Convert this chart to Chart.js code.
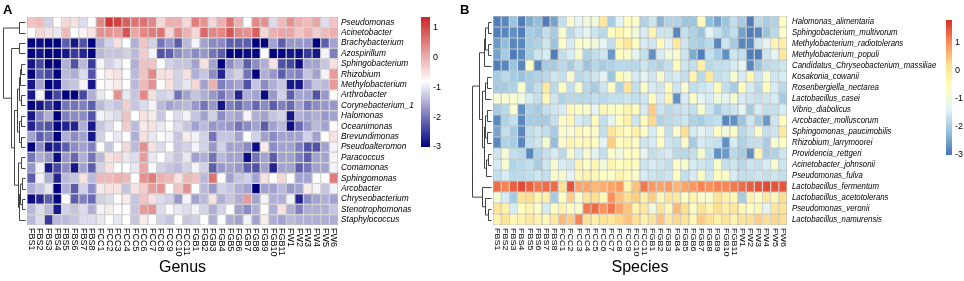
<!DOCTYPE html>
<html>
<head>
<meta charset="utf-8">
<script src="https://cdn.jsdelivr.net/npm/chart.js@4.4.1/dist/chart.umd.min.js"></script>
<style>
  body { margin: 0; background: #fff; }
  #wrap { position: relative; width: 964px; height: 281px; }
  canvas { position: absolute; top: 0; }
</style>
</head>
<body>
<div id="wrap">
  <canvas id="genus" width="470" height="281" style="left:0"></canvas>
  <canvas id="species" width="509" height="281" style="left:455px"></canvas>
</div>
<script>
// sample columns (same order in both panels)
const samples = ['FBS1','FBS2','FBS3','FBS4','FBS5','FBS6','FBS7','FBS8',
  'FCC1','FCC2','FCC3','FCC4','FCC5','FCC6','FCC7','FCC8','FCC9','FCC10','FCC11',
  'FGB1','FGB2','FGB3','FGB4','FGB5','FGB6','FGB7','FGB8','FGB9','FGB10','FGB11',
  'FW1','FW2','FW3','FW4','FW5','FW6'];

const genusNames = ['Pseudomonas','Acinetobacter','Brachybacterium','Azospirillum','Sphingobacterium',
  'Rhizobium','Methylobacterium','Arthrobacter','Corynebacterium_1','Halomonas','Oceanimonas',
  'Brevundimonas','Pseudoalteromon','Paracoccus','Comamonas','Sphingomonas','Arcobacter',
  'Chryseobacterium','Stenotrophomonas','Staphylococcus'];

// scaled abundance, one row per genus
const genusValues = [
  [-0.2,-0.1,-1.2,-0.8,-0.4,-0.5,-1.1,-0.8,0.4,1.2,1.1,0.8,0.6,0.6,0.4,-0.4,0.0,0.0,-0.4,0.5,0.3,-0.4,0.0,0.6,0.0,-0.8,0.4,0.3,-1.1,-0.1,0.3,0.0,-0.1,0.1,-1.1,-0.2],
  [-0.8,-0.4,-0.5,-1.0,-0.1,-0.8,-0.7,-0.5,0.3,0.3,0.2,0.9,0.1,0.4,0.5,0.6,-0.4,0.4,0.0,-0.4,0.7,0.4,0.4,0.9,0.4,0.3,0.8,-0.4,0.0,0.1,0.1,-0.2,0.0,-0.3,-0.1,0.0],
  [-3,-2.9,-3,-3,-2.2,-2.8,-2.3,-3,-1.5,-1.2,-0.5,-0.8,-1.5,-0.2,-1.2,-2.0,-1.7,-2.2,-1.4,-0.9,-1.6,-1.8,-1.8,-2.2,-2.2,-2.2,-3,-3,-1.6,-2.2,-1.7,-1.7,-1.7,-3,-2.2,-1.6],
  [-3,-2.8,-3,-3,-2.8,-2.5,-2.7,-3,-1.4,-1.3,-1.3,-1.2,-1.4,-0.3,-0.9,-2.3,-2.2,-1.8,-1.6,-1.8,-1.7,-2.0,-2.2,-3,-3,-2.9,-3,-0.8,-3,-3,-2.8,-2.9,-2.5,-2.8,-0.9,-1.9],
  [-2.8,-2.4,-3,-3,-1.5,-2.3,-1.4,-2.5,-0.9,-1.2,-1.0,-0.8,-1.5,-0.2,-0.2,-0.8,-1.2,-1.3,-1.3,-1.6,-0.5,-1.6,-3,-1.8,-1.5,-2.2,-1.8,-1.5,-0.5,-2.3,-2.4,-2.9,-1.6,-1.6,-1.3,-0.5],
  [-3,-2.2,-2.4,-3,-1.4,-1.5,-1.1,-2.3,-0.8,-0.6,-0.5,-0.8,-1.4,-0.2,0.4,-0.5,-0.5,-1.2,-0.5,-1.5,-1.3,-1.8,-2.7,-1.4,-1.2,-2.0,-3,-1.5,-1.7,-2.2,-1.8,-1.9,-1.3,-1.6,-0.9,0.2],
  [-2.8,-1.6,-3,-2.9,-1.4,-1.3,-0.9,-2.8,-0.8,-0.7,-0.6,-0.8,-1.4,-0.1,0.3,-0.8,-0.5,-1.2,-1.0,-0.4,-1.6,0.0,-1.9,-1.7,-1.6,-2.3,-1.3,-1.8,-1.5,-1.3,-2.8,-2.8,-1.7,-1.3,-1.4,0.2],
  [-2.8,-0.9,-2.9,-2.4,-3,-3,-2.4,-1.5,-1.0,-0.8,0.3,-1.0,-1.3,0.4,-0.5,-1.2,-1.1,-2.0,-1.6,-1.3,-1.5,-1.7,-2.0,-1.7,-2.7,-1.5,-1.6,-2.9,-1.7,-1.2,-2.2,-1.6,-1.6,-2.3,-1.7,-0.8],
  [-3,-2.8,-2.5,-2.9,-2.0,-2.0,-1.9,-2.2,-1.4,-1.2,-1.3,-0.3,-1.3,-1.1,-0.9,-1.4,-1.6,-1.5,-1.4,-1.7,-2.0,-1.7,-2.8,-1.9,-2.1,-1.8,-2.1,-1.8,-2.2,-1.9,-2.1,-1.6,-2.0,-1.8,-1.7,-1.7],
  [-2.8,-1.9,-1.5,-3,-1.9,-1.8,-1.8,-2.3,-0.9,-1.0,-1.1,-0.2,-0.8,-0.5,-0.6,-1.3,-0.8,-1.1,-0.9,-1.3,-1.6,-1.2,-1.8,-1.5,-1.6,-0.9,-1.5,-1.6,-1.3,-1.2,-2.8,-1.5,-1.6,-1.5,-1.7,-1.6],
  [-2.7,-2.2,-2.3,-3,-2.7,-2.7,-1.5,-2.8,-1.3,-1.1,-0.8,-0.3,-1.4,-0.6,-0.5,-1.0,-0.8,-1.1,-1.3,-1.6,-1.4,-1.7,-1.6,-1.7,-2.0,-1.8,-1.6,-2.2,-1.6,-1.4,-2.9,-2.1,-1.7,-1.4,-1.6,-0.8],
  [-1.6,-2.2,-2.0,-3,-1.5,-1.8,-1.6,-2.8,-1.2,-0.8,-1.0,-0.8,-1.5,-0.5,-1.0,-0.8,-0.9,-1.3,-0.6,-0.9,-1.2,-2.0,-1.3,-1.3,-1.6,-0.8,-1.2,-1.6,-1.8,-1.6,-1.6,-1.6,-1.2,-1.6,-0.8,-0.5],
  [-3,-1.8,-2.8,-2.7,-2.2,-1.8,-1.6,-1.9,-0.8,-1.3,-0.8,-0.4,-1.4,0.3,-0.5,-1.1,-0.8,-1.3,-1.2,-0.9,-1.2,-1.7,-1.2,-1.6,-1.6,-1.8,-2.9,-0.6,-1.8,-1.6,-1.6,-1.9,-2.3,-2.3,-1.6,-0.9],
  [-2.0,-1.5,-1.7,-2.9,-1.7,-2.1,-1.5,-2.0,-1.4,-0.5,-0.4,-1.0,-1.1,0.2,-1.0,-0.8,-1.1,-1.3,-1.0,-1.6,-1.5,-2.0,-1.4,-1.6,-1.6,-2.9,-2.0,-1.6,-2.2,-1.6,-1.6,-1.9,-2.2,-1.6,-1.6,-0.9],
  [-1.7,-0.9,-2.8,-2.4,-1.8,-2.8,-1.6,-2.2,-1.2,-0.5,-0.8,-0.8,-1.0,0.1,-0.8,-1.2,-1.3,-1.4,-1.2,-0.9,-1.2,-2.2,-1.7,-1.6,-1.7,-2.2,-2.3,-1.6,-2.7,-1.6,-1.6,-2.2,-2.0,-1.6,-1.6,-0.9],
  [-2.2,-0.9,-1.5,-2.7,-1.4,-1.3,-0.5,-1.4,-0.1,-0.1,0.0,-0.1,-0.8,0.3,0.5,0.0,-0.1,-0.5,-0.1,-0.2,-1.4,0.6,-0.8,-1.6,-1.3,-1.2,-1.6,-0.5,-0.8,-0.4,-0.8,-1.6,-1.6,-0.8,-0.8,0.5],
  [-1.5,-1.3,-1.0,-3,-1.5,-2.2,-1.2,-1.8,-0.6,-0.5,-0.5,-1.3,-0.5,-0.3,0.2,0.3,-0.8,-0.2,0.3,-0.8,-1.4,-1.7,-1.2,-1.3,-1.5,-1.6,-3,-1.6,-1.6,-1.4,-1.7,-1.6,-0.6,-0.9,-1.3,-0.9],
  [-2.9,-2.7,-2.2,-3,-0.8,-2.2,-1.9,-2.1,-1.2,-1.1,-0.8,-0.6,-1.3,-0.2,-0.5,-1.1,-1.2,-1.7,-0.9,-1.6,-1.4,-0.5,-1.5,-1.3,-1.5,0.2,-1.6,-0.9,-1.5,-1.5,-0.9,-2.7,-1.8,-1.6,-1.5,-1.6],
  [-1.4,-1.1,-1.4,-2.8,-1.2,-1.3,-1.1,-1.5,-0.9,-0.6,-0.8,-0.8,-1.3,0.2,0.3,-1.1,-0.8,-1.0,-1.1,-0.9,-1.2,-1.5,-1.2,-0.8,-1.6,-1.8,-1.5,-0.8,-1.5,-0.5,-1.5,-1.9,-1.5,-1.5,-1.5,-1.3],
  [-1.4,-1.1,-2.5,-1.4,-1.4,-1.3,-1.1,-1.1,-1.0,-0.8,-1.0,-0.8,-1.3,-0.6,-0.8,-1.2,-1.3,-0.8,-1.3,-1.2,-0.8,-1.5,-0.8,-1.5,-1.6,-0.9,-1.6,-0.6,-1.5,-1.6,-1.4,-1.5,-1.5,-1.5,-1.5,-1.5]
];

const speciesNames = ['Halomonas_alimentaria','Sphingobacterium_multivorum','Methylobacterium_radiotolerans',
  'Methylobacterium_populi','Candidatus_Chryseobacterium_massiliae','Kosakonia_cowanii',
  'Rosenbergiella_nectarea','Lactobacillus_casei','Vibrio_diabolicus','Arcobacter_molluscorum',
  'Sphingomonas_paucimobilis','Rhizobium_larrymoorei','Providencia_rettgeri','Acinetobacter_johnsonii',
  'Pseudomonas_fulva','Lactobacillus_fermentum','Lactobacillus_acetotolerans','Pseudomonas_veronii',
  'Lactobacillus_namurensis'];

const speciesValues = [
  [-2.9,-2.8,-2.1,-2.9,-2.4,-2.2,-2.9,-2.5,-1.7,-0.8,-1.3,-1.0,-1.0,0.0,-2.0,-1.3,-0.6,-0.7,-1.9,-1.6,-2.3,-1.9,-1.9,-2.1,-2.1,-0.5,-2.2,-2.5,-2.1,-1.7,-2.0,-2.9,-1.8,-2.0,-1.9,-0.6],
  [-2.9,-2.8,-2.7,-2.9,-2.0,-2.1,-1.7,-2.0,-0.8,-1.8,-1.5,-1.3,-1.6,-1.8,-0.6,-0.3,-0.6,-1.0,-1.5,-0.3,-1.6,-1.6,-2.8,-1.7,-1.9,-2.1,-1.3,-1.7,-2.0,-1.7,-2.5,-2.9,-2.8,-2.1,-1.8,-0.7],
  [-2.6,-2.2,-2.8,-2.8,-2.0,-1.9,-1.6,-2.1,-0.7,-1.5,-0.7,-0.8,-1.0,-1.3,-1.7,-0.3,0.1,-0.6,-1.5,-1.6,-0.5,-1.3,0.0,-1.6,-1.9,-2.0,-1.8,-2.8,-1.6,-2.0,-2.8,-2.8,-1.6,-1.3,-0.3,-0.2],
  [-2.5,-2.0,-2.9,-2.8,-2.0,-1.6,-1.5,-2.9,-1.7,-1.5,-0.8,-1.9,-1.7,-1.6,-2.6,-0.6,-0.7,-1.3,-1.7,-2.7,-1.5,-1.0,-0.8,-1.6,-2.4,-2.9,-1.7,-2.0,-2.7,-1.6,-1.7,-2.9,-2.9,-1.6,-1.3,0.0],
  [-2.9,-2.8,-2.1,-2.8,-0.6,-2.8,-2.0,-2.0,-1.8,-2.0,-1.7,-2.1,-1.8,-2.0,-1.9,-1.8,-1.8,-1.8,-1.6,-1.8,-1.9,-1.7,-0.5,-1.6,-1.7,-0.2,-1.8,-1.7,-1.7,-1.5,-1.3,-2.8,-2.1,-1.8,-1.7,-1.6],
  [-2.0,-1.8,-2.0,-2.1,-2.0,-1.9,-1.8,-1.6,-1.7,-0.8,-1.8,-1.7,-1.6,-1.3,-2.1,-0.5,-0.8,-1.5,-1.3,-1.6,-0.8,-1.6,-1.5,-1.7,-0.3,-1.8,0.0,-1.7,-1.6,-0.8,-1.5,-0.4,-1.6,-0.8,-1.6,-1.5],
  [-2.0,-2.0,-1.9,-0.8,-2.0,-1.7,0.0,-1.8,-0.6,-1.7,-0.8,-1.8,-2.0,-1.6,-0.7,-1.9,0.1,-1.7,-0.7,-1.5,-1.6,-0.5,-1.6,-0.8,-1.7,-1.6,-1.5,-0.5,-1.7,-2.0,-0.6,-1.5,-1.8,-0.5,-1.5,-1.8],
  [-0.9,-0.8,-0.8,-1.0,-1.5,-1.7,-0.4,-1.6,-1.9,-1.8,-1.8,-1.8,-1.7,-1.8,-1.7,-1.7,-1.6,-1.7,-1.6,-0.6,-1.5,-0.3,-2.7,-1.5,-0.7,-1.3,-1.5,-1.0,-1.3,-0.8,-1.5,-1.6,-1.7,-1.6,-1.5,-2.0],
  [-2.0,-1.8,-0.8,-2.7,-1.9,-2.0,-1.7,-1.6,-1.5,-0.4,-0.6,-0.7,-1.3,-0.4,-0.7,-0.6,-0.3,-0.5,-1.5,0.4,-1.6,-1.8,-1.7,-1.6,-1.7,-0.8,-1.6,-2.0,-1.7,-1.6,-1.3,-2.0,-1.5,-1.7,-1.7,-1.5],
  [-2.8,-1.9,-1.7,-2.8,-2.0,-2.0,-2.0,-1.7,-0.7,-0.4,-1.5,-1.6,-0.5,-1.7,-1.3,-0.6,-0.2,-1.6,-0.5,0.3,-1.9,-1.8,-1.7,-1.6,-1.9,-2.0,-1.8,-1.7,-2.8,-2.7,-2.1,-1.6,-2.0,-2.6,-1.6,-0.5],
  [-2.5,-1.7,-2.0,-2.8,-1.7,-1.6,-1.7,-2.0,-0.7,-0.8,-0.4,-0.6,-0.7,-1.7,0.1,-0.3,-0.6,-0.2,-0.6,-1.5,-0.7,-1.7,-0.7,0.2,-1.5,-1.3,-1.5,-0.6,-1.0,-0.7,-1.8,-1.6,-0.7,-1.7,-1.6,0.0],
  [-2.8,-1.9,-2.0,-2.8,-1.7,-1.6,-0.8,-2.2,-0.7,-0.3,-0.5,-0.4,-0.6,-1.3,0.4,-0.6,-0.4,-0.7,-1.6,-1.5,-0.6,-1.6,-1.7,-0.7,-2.0,-1.5,-1.6,-1.7,-2.7,-1.5,-1.9,-1.7,-1.7,-2.0,-0.8,-0.6],
  [-1.6,-0.9,-1.7,-1.8,-2.8,-1.9,-1.7,-1.5,-1.8,-0.8,-1.5,-0.8,-1.3,-1.7,-0.7,-1.0,-0.6,-0.6,-1.3,-1.7,-1.6,-1.5,-1.8,-1.8,-1.7,-0.8,-1.7,-2.7,-2.6,-1.8,-2.0,-2.7,-0.3,-2.0,-1.9,-1.6],
  [-1.5,-0.8,-1.9,-1.8,-1.7,-2.0,-1.6,-0.8,-1.5,-1.6,-0.3,-0.7,-0.4,-1.0,-0.3,-0.6,-0.4,-0.6,-1.6,-1.5,-1.6,-1.7,-0.7,-0.8,-1.5,-1.6,-1.7,-0.7,-1.7,-1.6,-1.8,-1.6,-1.7,-1.5,-0.8,-1.6],
  [-1.7,-1.5,-1.8,-1.8,-1.7,-1.6,-1.7,-0.7,-0.8,-1.3,-0.4,-0.3,-0.5,-0.6,-0.7,-0.3,-0.5,-0.8,-1.5,-1.6,-1.7,-1.6,-0.6,-1.7,-1.5,-0.7,-1.6,-0.6,-0.7,-1.5,-1.7,-1.7,-1.6,-1.7,-1.6,-1.7],
  [1.3,1.1,1.4,1.6,1.4,1.2,1.3,1.3,0.2,1.5,0.8,0.8,0.6,0.7,0.8,0.9,-0.3,0.5,1.2,0.9,0.8,0.9,0.6,0.8,0.9,1.1,1.0,1.1,1.1,1.2,1.3,1.4,1.5,1.6,1.5,1.5],
  [-0.9,-1.5,-2.0,0.1,0.2,-0.3,-0.2,-2.0,-0.6,0.4,-0.7,0.1,0.2,-0.4,1.0,0.5,0.2,0.4,-0.2,0.4,-0.4,0.1,0.0,-0.6,-0.3,-0.7,-0.8,0.1,-0.3,-0.4,-2.0,-0.3,-0.6,0.0,-0.4,0.2],
  [0.1,-0.2,-1.5,-0.6,-0.3,-0.7,-1.5,-0.6,-0.3,-0.6,-0.7,1.2,1.3,1.0,1.2,0.8,0.5,-0.3,0.0,-1.0,0.1,-0.4,0.6,0.2,-0.7,0.1,-0.3,0.2,-0.2,0.0,-0.4,-0.6,-0.4,-1.3,0.0,0.1],
  [-0.3,0.1,-0.4,-0.3,0.0,-0.3,-0.4,0.0,0.6,0.4,1.1,0.1,-0.2,0.1,0.0,0.3,0.5,0.2,-0.2,0.1,0.5,0.0,0.3,0.1,-0.4,0.4,0.2,-0.2,0.1,-0.3,0.1,0.2,0.4,0.2,0.3,0.2]
];

// row clustering: [left, right, height]; numbers are row indices
const genusTree = [[0, 1, 6.5],
  [[2, 3, 6],
   [[[[[4, 5, 4], 6, 5], [7, 8, 4], 7], [[9, 10, 4], [11, 12, 4], 6], 9],
    [[13, 14, 4], [[[15, 16, 3], [17, 18, 3], 5], 19, 6], 8], 12], 15], 24];
const speciesTree = [
  [[[[0, 1, 3], [2, 3, 3], 6], 4, 8],
   [[[5, 6, 4], 7, 6], [[[8, 9, 4], [10, 11, 4], 6], [[12, 13, 3], 14, 5], 8], 10], 13],
  [15, [16, [17, 18, 3], 6], 10], 21];

// colour scales: [value, rgb]
const genusStops = [[-3, [0, 0, 128]], [-0.8, [255, 255, 255]], [1.37, [205, 38, 38]]];
const speciesStops = [[-3, [69, 117, 180]], [-2.2, [145, 191, 219]], [-1.39, [224, 243, 248]],
  [-0.59, [255, 255, 191]], [0.21, [254, 224, 144]], [1.02, [252, 141, 89]], [1.82, [215, 48, 39]]];
const legendTicks = [1, 0, -1, -2, -3];

function colourAt(stops, v) {
  if (v <= stops[0][0]) return `rgb(${stops[0][1].join(',')})`;
  for (let i = 1; i < stops.length; i++) {
    if (v <= stops[i][0]) {
      const [v0, c0] = stops[i - 1], [v1, c1] = stops[i];
      const t = (v - v0) / (v1 - v0);
      return `rgb(${c0.map((c, k) => Math.round(c + (c1[k] - c) * t)).join(',')})`;
    }
  }
  return `rgb(${stops[stops.length - 1][1].join(',')})`;
}

function drawTree(ctx, node, yAt, xAt) {
  if (typeof node === 'number') return { x: xAt(0), y: yAt(node) };
  const a = drawTree(ctx, node[0], yAt, xAt);
  const b = drawTree(ctx, node[1], yAt, xAt);
  const x = xAt(node[2]);
  ctx.beginPath();
  ctx.moveTo(a.x, a.y); ctx.lineTo(x, a.y); ctx.lineTo(x, b.y); ctx.lineTo(b.x, b.y);
  ctx.stroke();
  return { x, y: (a.y + b.y) / 2 };
}

// labels, dendrogram, colour key and panel titles
const decorPlugin = {
  id: 'decor',
  afterDraw(chart, args, o) {
    const { ctx, chartArea: area, scales: { x, y } } = chart;
    ctx.save();
    ctx.fillStyle = '#000';

    // row labels
    ctx.font = 'italic 8.7px "Liberation Sans", Arial, sans-serif';
    ctx.textAlign = 'left';
    ctx.textBaseline = 'middle';
    o.rows.forEach((name, i) => {
      ctx.save();
      ctx.translate(area.right + o.labelGap, y.getPixelForValue(i + 0.5));
      ctx.scale(o.squeeze, 1);
      ctx.fillText(name, 0, 0);
      ctx.restore();
    });

    // column labels, reading downwards
    ctx.font = '9px "Liberation Sans", Arial, sans-serif';
    samples.forEach((s, i) => {
      ctx.save();
      ctx.translate(x.getPixelForValue(i), area.bottom + 3);
      ctx.scale(o.colSqueeze, 1);
      ctx.rotate(Math.PI / 2);
      ctx.fillText(s, 0, 0);
      ctx.restore();
    });

    // dendrogram
    ctx.strokeStyle = '#444';
    ctx.lineWidth = 1;
    drawTree(ctx, o.tree,
      r => Math.round(y.getPixelForValue(r + 0.5)) + 0.5,
      h => Math.round(area.left - 2 - h * o.treeUnit) + 0.5);

    // colour key
    const k = o.key;
    const kx = area.right + k.dx;
    const vy = v => k.top + (k.max - v) / (k.max - k.min) * (k.bottom - k.top);
    const grad = ctx.createLinearGradient(0, k.top, 0, k.bottom);
    k.stops.forEach(([v]) => grad.addColorStop((k.max - v) / (k.max - k.min), colourAt(k.stops, v)));
    ctx.fillStyle = grad;
    ctx.fillRect(kx, k.top, k.width, k.bottom - k.top);
    ctx.fillStyle = '#000';
    ctx.font = '9px "Liberation Sans", Arial, sans-serif';
    legendTicks.forEach(t => ctx.fillText(String(t), kx + k.width + 3, vy(t)));

    // panel letter and title
    ctx.font = 'bold 13px "Liberation Sans", Arial, sans-serif';
    ctx.textBaseline = 'alphabetic';
    ctx.fillText(o.letter, o.letterX, 14);
    ctx.font = '16px "Liberation Sans", Arial, sans-serif';
    ctx.textAlign = 'center';
    ctx.fillText(o.title, (area.left + area.right) / 2, area.bottom + 47);
    ctx.restore();
  }
};

function heatmap(id, rows, values, stops, padding, decor) {
  return new Chart(document.getElementById(id), {
    type: 'bar',
    data: {
      labels: samples,
      datasets: rows.map((name, r) => ({
        label: name,
        data: samples.map(() => 1),
        backgroundColor: values[r].map(v => colourAt(stops, v)),
        borderColor: '#9a9a9a',
        borderWidth: 0.6,
        borderSkipped: false,
        inflateAmount: 0,
        barPercentage: 1,
        categoryPercentage: 1
      }))
    },
    options: {
      responsive: false,
      animation: false,
      events: [],
      layout: { padding },
      scales: {
        x: { display: false, stacked: true },
        y: { display: false, stacked: true, min: 0, max: rows.length, reverse: true }
      },
      plugins: { legend: { display: false }, tooltip: { enabled: false }, decor }
    },
    plugins: [decorPlugin]
  });
}

heatmap('genus', genusNames, genusValues, genusStops,
  { left: 27, top: 17, right: 132, bottom: 56 },
  { rows: genusNames, labelGap: 3, squeeze: 0.96, colSqueeze: 1, tree: genusTree, treeUnit: 0.92,
    letter: 'A', letterX: 3, title: 'Genus',
    key: { dx: 83, width: 9, top: 17, bottom: 147, min: -3, max: 1.37, stops: genusStops } });

heatmap('species', speciesNames, speciesValues, speciesStops,
  { left: 38, top: 16, right: 177, bottom: 56 },
  { rows: speciesNames, labelGap: 5, squeeze: 0.9, colSqueeze: 0.9, tree: speciesTree, treeUnit: 0.92,
    letter: 'B', letterX: 5, title: 'Species',
    key: { dx: 159, width: 6, top: 20, bottom: 155, min: -3, max: 1.82, stops: speciesStops } });
</script>
</body>
</html>
